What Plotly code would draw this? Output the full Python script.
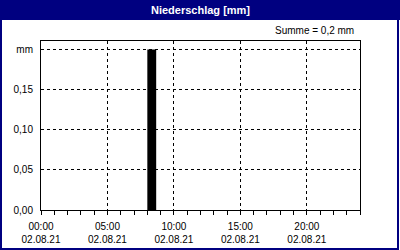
import plotly.graph_objects as go

# ---- data ----
bar_times = ["2021-08-02 08:20"]
bar_values = [0.2]
bar_width_min = 40
x_tick_vals = ["2021-08-02 00:00", "2021-08-02 05:00", "2021-08-02 10:00",
               "2021-08-02 15:00", "2021-08-02 20:00"]
x_tick_text = ["00:00<br>02.08.21", "05:00<br>02.08.21", "10:00<br>02.08.21",
               "15:00<br>02.08.21", "20:00<br>02.08.21"]
y_tick_vals = [0.0, 0.05, 0.10, 0.15, 0.20]
y_tick_text = ["0,00", "0,05", "0,10", "0,15", "mm"]
title_text = "Niederschlag [mm]"
sum_text = "Summe = 0,2 mm"

W, H = 400, 250
ML, MR, MT, MB = 41, 40, 41, 40
PW, PH = W - ML - MR, H - MT - MB
NAVY = "#000080"
FONT = "Liberation Sans"


def px(x):
    return (x - ML) / PW


def py(y):
    return 1 - (y - MT) / PH


fig = go.Figure()
fig.add_trace(go.Bar(
    x=bar_times, y=bar_values, width=[bar_width_min * 60 * 1000],
    marker=dict(color="black", line=dict(width=0)),
))

fig.update_layout(
    width=W, height=H,
    margin=dict(l=ML, r=MR, t=MT, b=MB, autoexpand=False),
    paper_bgcolor="white", plot_bgcolor="white",
    showlegend=False,
    font=dict(family=FONT, size=10, color="black"),
    xaxis=dict(
        type="date", automargin=False,
        range=["2021-08-02 00:00", "2021-08-03 00:00"],
        tickmode="array", tickvals=x_tick_vals, ticktext=x_tick_text,
        ticks="outside", ticklen=4, tickcolor="black", tickwidth=1,
        minor=dict(dtick=3600000, ticks="outside", ticklen=4, tickcolor="black", showgrid=False),
        showgrid=True, gridcolor="black", gridwidth=1, griddash="3px,3px",
        showline=True, linecolor="black", linewidth=1, mirror=True,
        zeroline=False, tickangle=0, ticklabelstandoff=3,
    ),
    yaxis=dict(
        automargin=False,
        range=[0, 0.2105],
        tickmode="array", tickvals=y_tick_vals, ticktext=y_tick_text,
        ticks="", ticklabelstandoff=5,
        showgrid=True, gridcolor="black", gridwidth=1, griddash="3px,3px",
        showline=True, linecolor="black", linewidth=1, mirror=True,
        zeroline=False,
    ),
    shapes=[
        dict(type="rect", xref="paper", yref="paper",
             x0=px(0), x1=px(400), y0=py(0), y1=py(20),
             fillcolor=NAVY, line=dict(width=0), layer="below"),
        dict(type="rect", xref="paper", yref="paper",
             x0=px(1), x1=px(398), y0=py(0), y1=py(249),
             fillcolor="rgba(0,0,0,0)", line=dict(color=NAVY, width=2)),
    ],
    annotations=[
        dict(text="<b>" + title_text + "</b>", xref="paper", yref="paper",
             x=px(200), y=py(10), xanchor="center", yanchor="middle",
             showarrow=False, font=dict(family=FONT, size=11, color="white")),
        dict(text=sum_text, xref="paper", yref="paper",
             x=px(356), y=py(31), xanchor="right", yanchor="middle",
             showarrow=False, font=dict(family=FONT, size=10, color="black")),
    ],
)

fig.write_html("out.html")
